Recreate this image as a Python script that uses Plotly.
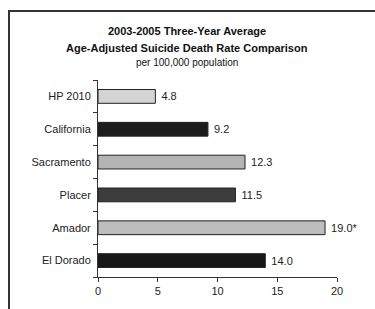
import plotly.graph_objects as go

categories = ["HP 2010", "California", "Sacramento", "Placer", "Amador", "El Dorado"]
values = [4.8, 9.2, 12.3, 11.5, 19.0, 14.0]
value_labels = ["4.8", "9.2", "12.3", "11.5", "19.0*", "14.0"]
bar_colors = ["#d4d4d4", "#1c1c1c", "#b4b4b4", "#3c3c3c", "#bdbdbd", "#181818"]
x_ticks = [0, 5, 10, 15, 20]

W, H = 375, 309
L, R, T, B = 98, 38, 80, 29
pw, ph = W - L - R, H - T - B

fig = go.Figure(go.Bar(
    y=categories, x=values, orientation="h",
    marker=dict(color=bar_colors, line=dict(color="#222222", width=1)),
    text=value_labels, texttemplate="\u00a0%{text}", textposition="outside", cliponaxis=False,
    textfont=dict(family="Liberation Sans, Arial", size=11, color="#222222"),
    width=0.42, hoverinfo="skip",
))

def px(xp):
    return (xp - L) / pw

def py(yp):
    return (H - B - yp) / ph

fig.add_shape(type="rect", xref="paper", yref="paper",
              x0=px(9), x1=px(380), y0=py(10), y1=py(320),
              line=dict(color="#333333", width=2), layer="below")

fig.add_annotation(xref="paper", yref="paper", x=px(187), y=py(22),
                   text="<b>2003-2005 Three-Year Average</b>", showarrow=False,
                   font=dict(family="Liberation Sans, Arial", size=11, color="#111111"))
fig.add_annotation(xref="paper", yref="paper", x=px(187), y=py(39),
                   text="<b>Age-Adjusted Suicide Death Rate Comparison</b>", showarrow=False,
                   font=dict(family="Liberation Sans, Arial", size=11, color="#111111"))
fig.add_annotation(xref="paper", yref="paper", x=px(187), y=py(55),
                   text="per 100,000 population", showarrow=False,
                   font=dict(family="Liberation Sans, Arial", size=10, color="#111111"))

fig.update_layout(
    width=W, height=H,
    margin=dict(l=L, r=R, t=T, b=B),
    paper_bgcolor="white", plot_bgcolor="white",
    showlegend=False,
    font=dict(family="Liberation Sans, Arial", size=11, color="#222222"),
    xaxis=dict(range=[0, 20], tickvals=x_ticks, showgrid=False, zeroline=False,
               showline=True, linecolor="#333333", linewidth=1,
               ticks="outside", ticklen=4, tickcolor="#333333"),
    yaxis=dict(categoryorder="array", categoryarray=categories[::-1],
               showgrid=False, zeroline=False, showline=True, linecolor="#333333",
               linewidth=1, ticks="outside", ticklen=4, tickcolor="#333333",
               tickson="boundaries", ticklabelstandoff=4),
)

fig.write_html("out.html", config={"displayModeBar": False},
               post_script="document.body.style.margin='0';document.body.style.overflow='hidden';")
